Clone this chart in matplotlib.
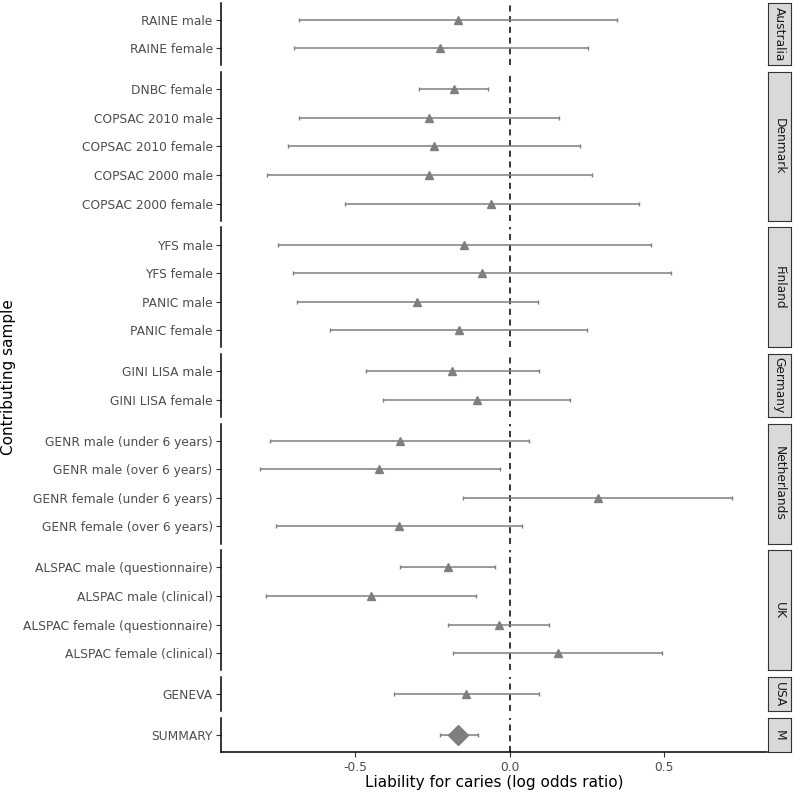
import matplotlib
matplotlib.use("Agg")
import matplotlib.pyplot as plt
import numpy as np

samples = ["RAINE male", "RAINE female",
           "DNBC female", "COPSAC 2010 male", "COPSAC 2010 female", "COPSAC 2000 male", "COPSAC 2000 female",
           "YFS male", "YFS female", "PANIC male", "PANIC female",
           "GINI LISA male", "GINI LISA female",
           "GENR male (under 6 years)", "GENR male (over 6 years)", "GENR female (under 6 years)", "GENR female (over 6 years)",
           "ALSPAC male (questionnaire)", "ALSPAC male (clinical)", "ALSPAC female (questionnaire)", "ALSPAC female (clinical)",
           "GENEVA",
           "SUMMARY"]
country = ["Australia", "Australia",
           "Denmark", "Denmark", "Denmark", "Denmark", "Denmark",
           "Finland", "Finland", "Finland", "Finland",
           "Germany", "Germany",
           "Netherlands", "Netherlands", "Netherlands", "Netherlands",
           "UK", "UK", "UK", "UK",
           "USA",
           "M"]
estimate = [-0.166, -0.224,
            -0.181, -0.262, -0.245, -0.260, -0.059,
            -0.147, -0.091, -0.300, -0.165,
            -0.185, -0.107,
            -0.356, -0.421, 0.284, -0.359,
            -0.201, -0.448, -0.036, 0.155,
            -0.142,
            -0.166]
lower = [-0.680, -0.697,
         -0.292, -0.682, -0.717, -0.783, -0.532,
         -0.750, -0.701, -0.689, -0.580,
         -0.464, -0.408,
         -0.774, -0.808, -0.152, -0.755,
         -0.355, -0.786, -0.201, -0.184,
         -0.374,
         -0.225]
upper = [0.348, 0.254,
         -0.071, 0.160, 0.228, 0.265, 0.417,
         0.458, 0.522, 0.090, 0.251,
         0.094, 0.195,
         0.063, -0.030, 0.719, 0.039,
         -0.046, -0.109, 0.127, 0.493,
         0.093,
         -0.104]
x_ticks = [-0.5, 0.0, 0.5]
x_ticklabels = ["-0.5", "0.0", "0.5"]

W, H = 794, 793
fig = plt.figure(figsize=(W / 100, H / 100), dpi=100)
plt.rcParams['font.family'] = ['DejaVu Sans']

order = []
for c in country:
    if c not in order:
        order.append(c)
counts = [country.count(c) for c in order]

left_px, right_px = 221.0, 767.5
top_px, bottom_px = 2.7, 752.3
gap = 6.8
unit = (bottom_px - top_px - gap * (len(order) - 1)) / sum(n + 0.2 for n in counts)
strip_w = 23.5
xlim = (-0.933, 0.833)
grey = "#7F7F7F"
fs = 8.8

y = top_px
for ci, c in enumerate(order):
    idx = [i for i, cc in enumerate(country) if cc == c]
    n = len(idx)
    h = (n + 0.2) * unit
    ax = fig.add_axes([left_px / W, 1 - (y + h) / H, (right_px - left_px) / W, h / H])
    ax.set_xlim(*xlim)
    ax.set_ylim(n - 0.4, -0.6)
    ax.axvline(0, color="black", lw=1.1, ls=(0, (4, 3)), zorder=1)
    for k, i in enumerate(idx):
        ax.errorbar([estimate[i]], [k],
                    xerr=[[estimate[i] - lower[i]], [upper[i] - estimate[i]]],
                    fmt="none", ecolor=grey, elinewidth=1.1, capsize=1.6, capthick=1.0, zorder=2)
        if samples[i] == "SUMMARY":
            ax.plot([estimate[i]], [k], marker="D", ms=10, color=grey, mec=grey, zorder=3)
        else:
            ax.plot([estimate[i]], [k], marker="^", ms=5.2, color=grey, mec=grey, zorder=3)
    ax.set_yticks(range(n))
    ax.set_yticklabels([samples[i] for i in idx])
    ax.tick_params(axis="y", length=3.5, width=0.8, color="#333333", labelcolor="#4D4D4D",
                   labelsize=fs, pad=2.5)
    for s in ["top", "right"]:
        ax.spines[s].set_visible(False)
    ax.spines["left"].set_linewidth(1.1)
    if ci == len(order) - 1:
        ax.spines["bottom"].set_linewidth(1.1)
        ax.set_xticks(x_ticks)
        ax.set_xticklabels(x_ticklabels)
        ax.tick_params(axis="x", length=3.5, width=0.8, color="#333333", labelcolor="#4D4D4D",
                       labelsize=fs, pad=2.5)
    else:
        ax.spines["bottom"].set_visible(False)
        ax.set_xticks([])
    # strip
    sax = fig.add_axes([right_px / W, 1 - (y + h) / H, strip_w / W, h / H])
    sax.set_facecolor("#D9D9D9")
    sax.set_xticks([]); sax.set_yticks([])
    for s in sax.spines.values():
        s.set_color("#333333"); s.set_linewidth(0.8)
    sax.text(0.5, 0.5, c, rotation=270, ha="center", va="center", fontsize=fs,
             color="#1A1A1A", transform=sax.transAxes)
    y += h + gap

fig.text((left_px + right_px) / 2 / W, 1 - 782 / H, "Liability for caries (log odds ratio)",
         ha="center", va="center", fontsize=11)
fig.text(9 / W, 1 - (top_px + bottom_px) / 2 / H, "Contributing sample", rotation=90,
         ha="center", va="center", fontsize=11)

fig.savefig("out.png", dpi=100)
